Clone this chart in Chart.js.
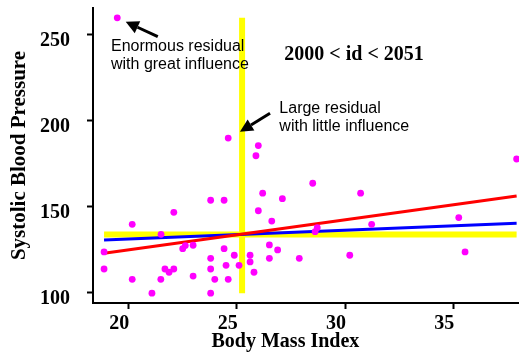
<!DOCTYPE html>
<html>
<head>
<meta charset="utf-8">
<script src="https://cdn.jsdelivr.net/npm/chart.js@4.4.1/dist/chart.umd.min.js"></script>
<style>
  html, body { margin: 0; padding: 0; background: #fff; }
  #wrap { width: 519px; height: 354px; }
</style>
</head>
<body>
<div id="wrap"><canvas id="chart" width="519" height="354"></canvas></div>
<script>
"use strict";
// Body mass index and systolic blood pressure, ids 2001..2050
const bmi = [19.49, 24.61, 26.00, 25.89, 28.51, 26.20, 30.72, 27.11, 23.80, 24.42,
             26.00, 22.10, 35.25, 26.62, 20.18, 31.23, 28.72, 28.62, 21.51, 22.51,
             22.63, 22.99, 24.42, 26.51, 26.89, 35.54, 18.88, 24.89, 25.62, 30.22,
             23.80, 26.51, 27.89, 18.88, 21.69, 21.88, 22.10, 23.80, 24.51, 25.11,
             25.62, 25.80, 22.99, 20.18, 21.50, 23.99, 24.61, 21.09, 23.80, 37.92];
const sbp = [260, 190, 185.6, 179.7, 163.7, 157.9, 157.9, 154.7, 153.8, 153.8,
             147.7, 146.8, 143.7, 141.7, 139.8, 139.8, 137.8, 135.5, 134.0, 125.6,
             127.4, 127.6, 125.6, 127.8, 124.9, 123.7, 123.7, 121.8, 121.8, 121.8,
             120.0, 120.0, 120.0, 113.8, 113.8, 111.9, 113.8, 113.8, 115.9, 115.9,
             117.9, 111.9, 109.7, 107.8, 107.8, 107.8, 107.8, 99.7, 99.7, 177.8];

// reference lines: [x0, x1] and [y0, y1]
const meanBmi = 25.25;
const meanSbp = 133.8;
const bmiRange = [18.88, 37.92];
const sbpRange = [99.7, 260];
const fitAllX = [18.88, 37.92];   // red: fit with all points
const fitAllY = [122.9, 156.3];
const fitDropX = [18.88, 37.92];  // blue: fit without the outlier
const fitDropY = [130.7, 140.4];

const xTicks = [20, 25, 30, 35];
const yTicks = [100, 150, 200, 250];

const serif = "'Liberation Serif', 'Times New Roman', serif";
const sans = "'Liberation Sans', Arial, sans-serif";
const serifBold = { family: serif, weight: "bold", size: 20 };

function seg(xs, ys) {
    return xs.map((x, i) => ({ x: x, y: ys[i] }));
}

// Annotations: text and arrows, placed in data units
const notes = [
    { lines: ["Enormous residual", "with great influence"], x: 19.2, y: [243.2, 232.5], font: "16px " + sans, align: "left" },
    { lines: ["Large residual", "with little influence"], x: 26.97, y: [207.3, 196.6], font: "16px " + sans, align: "left" },
    { lines: ["2000 < id < 2051"], x: 30.42, y: [238.4], font: "bold 20px " + serif, align: "center" }
];
const arrows = [
    { from: [21.36, 249.0], to: [19.88, 257.7] },
    { from: [26.54, 204.4], to: [25.15, 193.7] }
];

const notesPlugin = {
    id: "notes",
    afterDatasetsDraw(chart) {
        const ctx = chart.ctx;
        const xs = chart.scales.x, ys = chart.scales.y;
        ctx.save();
        ctx.fillStyle = "#000";
        ctx.textBaseline = "middle";
        notes.forEach(n => {
            ctx.font = n.font;
            ctx.textAlign = n.align;
            n.lines.forEach((t, i) => ctx.fillText(t, xs.getPixelForValue(n.x), ys.getPixelForValue(n.y[i])));
        });
        ctx.strokeStyle = "#000";
        ctx.lineWidth = 3;
        arrows.forEach(a => {
            const x0 = xs.getPixelForValue(a.from[0]), y0 = ys.getPixelForValue(a.from[1]);
            const x1 = xs.getPixelForValue(a.to[0]), y1 = ys.getPixelForValue(a.to[1]);
            const ang = Math.atan2(y1 - y0, x1 - x0);
            const hl = 13, hw = 6.5;
            const bx = x1 - hl * Math.cos(ang), by = y1 - hl * Math.sin(ang);
            ctx.beginPath();
            ctx.moveTo(x0, y0);
            ctx.lineTo(bx, by);
            ctx.stroke();
            ctx.beginPath();
            ctx.moveTo(x1, y1);
            ctx.lineTo(bx + hw * Math.sin(ang), by - hw * Math.cos(ang));
            ctx.lineTo(bx - hw * Math.sin(ang), by + hw * Math.cos(ang));
            ctx.closePath();
            ctx.fill();
        });
        // x axis title sits a little left of the plot centre in the original
        ctx.font = "bold 20px " + serif;
        ctx.textAlign = "center";
        ctx.fillText("Body Mass Index", xs.getPixelForValue(27.25), xs.bottom - 12);
        ctx.restore();
    }
};

const lineStyle = (color, width) => ({
    type: "line", borderColor: color, borderWidth: width, pointRadius: 0,
    showLine: true, fill: false, clip: false, borderCapStyle: "butt"
});

new Chart(document.getElementById("chart"), {
    type: "scatter",
    data: {
        datasets: [
            {
                data: seg(bmi, sbp), pointRadius: 3.4, pointBackgroundColor: "#FF00FF",
                pointBorderWidth: 0, clip: false
            },
            Object.assign({ data: seg(fitAllX, fitAllY) }, lineStyle("#FF0000", 3)),
            Object.assign({ data: seg(fitDropX, fitDropY) }, lineStyle("#0000FF", 3)),
            Object.assign({ data: seg(bmiRange, [meanSbp, meanSbp]) }, lineStyle("#FFFF00", 6)),
            Object.assign({ data: seg([meanBmi, meanBmi], sbpRange) }, lineStyle("#FFFF00", 6))
        ]
    },
    options: {
        responsive: false,
        animation: false,
        devicePixelRatio: 1,
        layout: { autoPadding: false, padding: { top: 8, right: 0, left: 0, bottom: 0 } },
        plugins: { legend: { display: false }, tooltip: { enabled: false } },
        scales: {
            x: {
                type: "linear", min: 18.37, max: 38.03,
                afterBuildTicks: s => { s.ticks = xTicks.map(v => ({ value: v })); },
                afterFit: s => { s.height = 51; s.paddingLeft = 0; s.paddingRight = 0; },
                grid: { drawOnChartArea: false, drawTicks: true, tickLength: 6, tickWidth: 2, tickColor: "#000" },
                border: { display: true, color: "#000", width: 2 },
                ticks: { color: "#000", font: serifBold, padding: 3, labelOffset: -9, maxRotation: 0 },
                title: { display: false }
            },
            y: {
                type: "linear", min: 94.0, max: 265.7,
                afterBuildTicks: s => { s.ticks = yTicks.map(v => ({ value: v })); },
                afterFit: s => { s.width = 93; s.paddingTop = 0; s.paddingBottom = 0; },
                grid: { drawOnChartArea: false, drawTicks: true, tickLength: 6, tickWidth: 2, tickColor: "#000" },
                border: { display: true, color: "#000", width: 2 },
                ticks: { color: "#000", font: serifBold, padding: 17, labelOffset: 6 },
                title: { display: true, text: "Systolic Blood Pressure", color: "#000", font: { family: serif, weight: "bold", size: 21 }, padding: { top: 7, bottom: 0 } }
            }
        }
    },
    plugins: [notesPlugin]
});
</script>
</body>
</html>
